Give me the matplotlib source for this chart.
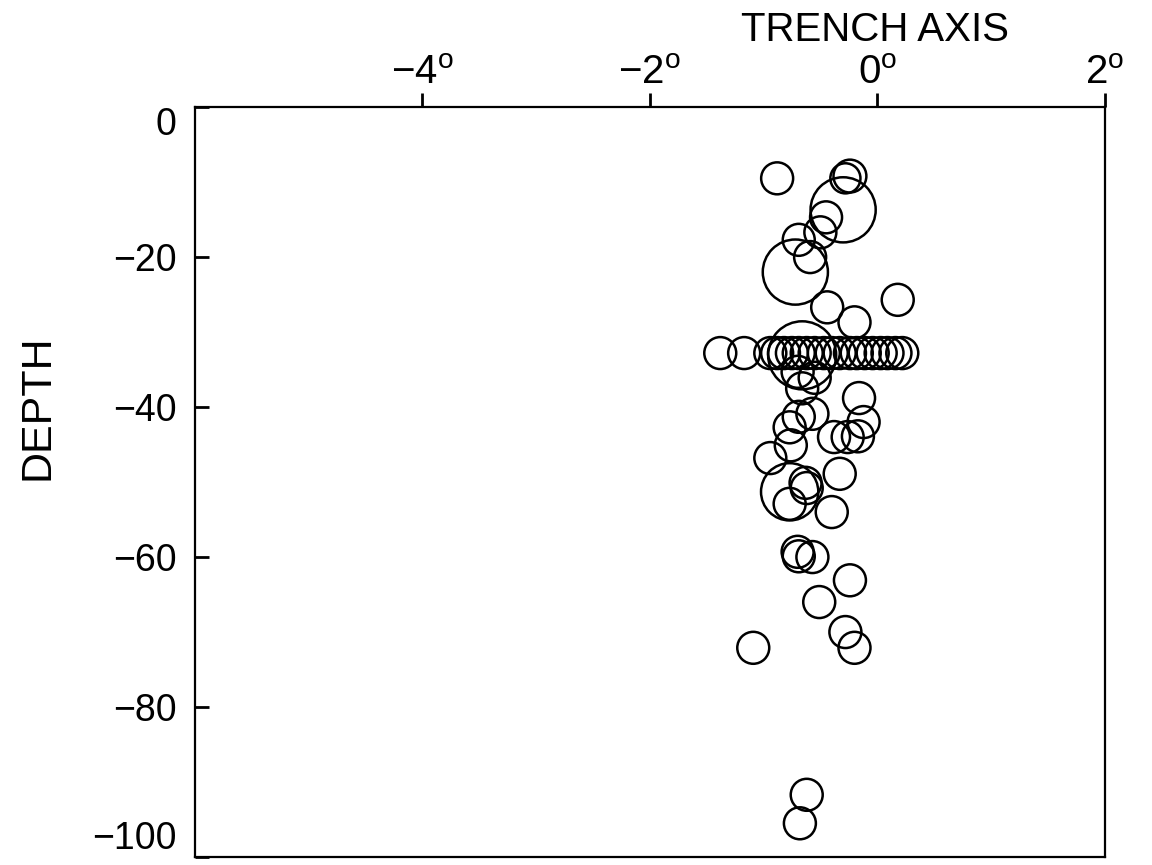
"""Depth section of hypocentres across the trench axis."""

import numpy as np
from matplotlib import pyplot as plt

plt.rcParams['font.family'] = ['Liberation Sans', 'DejaVu Sans']
plt.rcParams['mathtext.fontset'] = 'custom'
plt.rcParams['mathtext.rm'] = 'Liberation Sans'

# distance from trench axis (degrees), depth (km), marker size (points^2)
dist = [
    -0.88, -0.28, -0.24, -0.30, -0.45, -0.50, -0.69, -0.59, -0.72,
    -0.44, 0.18, -0.20,
    -1.38, -1.17, -0.94, -0.88, -0.82, -0.75, -0.69, -0.62, -0.55, -0.47,
    -0.40, -0.33, -0.24, -0.18, -0.11, -0.04, 0.03, 0.09, 0.16, 0.22,
    -0.66, -0.70, -0.55, -0.66,
    -0.16, -0.12, -0.77, -0.69, -0.57, -0.38, -0.26, -0.17, -0.76, -0.94,
    -0.33, -0.77, -0.63, -0.62, -0.77, -0.40,
    -0.70, -0.57, -0.69, -0.24, -0.51, -0.28, -0.20, -1.09, -0.62, -0.68,
]
depth = [
    -9.5, -9.5, -9.2, -13.7, -14.7, -16.7, -17.7, -20.0, -22.0,
    -26.7, -25.7, -28.7,
    -32.8, -32.8, -32.8, -32.8, -32.8, -32.8, -32.8, -32.8, -32.8, -32.8,
    -32.8, -32.8, -32.8, -32.8, -32.8, -32.8, -32.8, -32.8, -32.8, -32.8,
    -33.1, -35.3, -36.1, -37.5,
    -38.8, -42.0, -42.7, -41.3, -40.9, -44.0, -44.0, -43.9, -45.1, -46.8,
    -48.9, -51.3, -50.1, -50.8, -52.9, -54.0,
    -59.3, -60.0, -59.9, -63.1, -66.0, -70.0, -72.1, -72.1, -91.7, -95.5,
]
size = [
    530, 470, 560, 2200, 530, 530, 530, 530, 2200,
    530, 530, 530,
    530, 530, 530, 530, 530, 530, 530, 530, 530, 530,
    530, 530, 530, 530, 530, 530, 530, 530, 530, 530,
    2400, 530, 530, 530,
    530, 530, 530, 530, 530, 530, 530, 530, 530, 530,
    530, 1700, 530, 530, 530, 530,
    530, 530, 530, 530, 530, 530, 530, 530, 530, 530,
]

x_ticks = [-4, -2, 0, 2]
y_ticks = [0, -20, -40, -60, -80, -100]

fig = plt.figure(figsize=(11.52, 8.65), dpi=100)
ax = fig.add_axes([0.169, 0.0092, 0.790, 0.867])

ax.scatter(dist, depth, s=size, facecolors='none', edgecolors='black',
           linewidths=1.8, clip_on=False)

ax.set_xlim(-6, 2)
ax.set_ylim(-100, 0)

ax.xaxis.tick_top()
ax.set_xticks(x_ticks)
ax.set_xticklabels(['\u2212%d$^{\\mathrm{o}}$' % -v if v < 0 else '%d$^{\\mathrm{o}}$' % v
                    for v in x_ticks])
ax.set_yticks(y_ticks)
ax.set_yticklabels(['\u2212%d' % -v if v < 0 else '%d' % v for v in y_ticks])

ax.tick_params(axis='x', direction='out', length=10, width=2, labelsize=29, pad=1)
ax.tick_params(axis='y', direction='in', length=10, width=2, labelsize=27, pad=13)
for spine in ax.spines.values():
    spine.set_linewidth(1.6)

# end labels sit inside the frame, as in the original
ylabels = ax.get_yticklabels()
ylabels[0].set_va('top')
ylabels[-1].set_va('bottom')

fig.text(38 / 1152, 1 - 407 / 865, 'DEPTH', fontsize=31, rotation=90,
         ha='center', va='center')
fig.text(875 / 1152, 1 - 30 / 865, 'TRENCH AXIS', fontsize=29,
         ha='center', va='center')

fig.savefig('out.png', dpi=100)
